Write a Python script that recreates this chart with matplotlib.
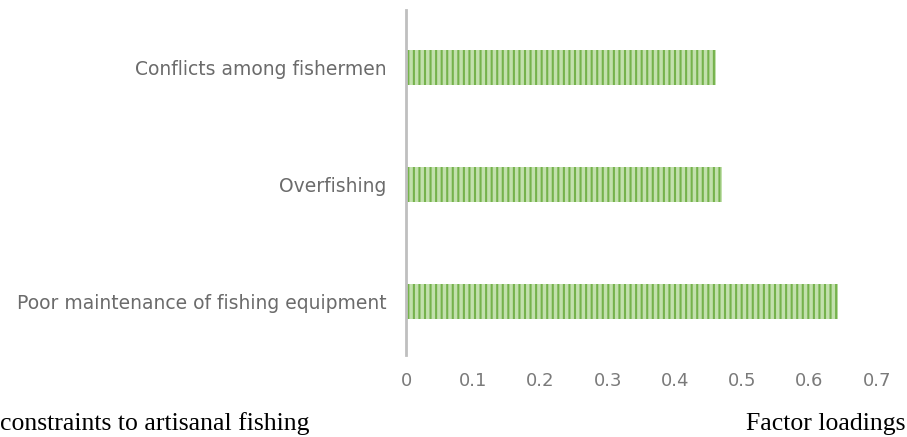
import matplotlib.pyplot as plt

# factor loadings of the constraints
constraints = ["Poor maintenance of fishing equipment", "Overfishing", "Conflicts among fishermen"]
loadings = [0.643, 0.470, 0.461]
x_ticks = [0, 0.1, 0.2, 0.3, 0.4, 0.5, 0.6, 0.7]

plt.rcParams['font.family'] = ['DejaVu Sans']
plt.rcParams['hatch.linewidth'] = 1.5

fig = plt.figure(figsize=(9.07, 4.37), dpi=100)
ax = fig.add_axes([406 / 907, 1 - 355 / 437, 1 - 406 / 907, 345 / 437])

ypos = list(range(len(constraints)))
ax.barh(ypos, loadings, height=0.3, color="#c2e0ad", edgecolor="#75b24c",
        hatch="|||", linewidth=0)

ax.set_xlim(0, 0.745)
ax.set_ylim(-0.46, 2.49)
ax.set_yticks(ypos)
ax.set_yticklabels(constraints, color="#6b6b6b", fontsize=13.5)
ax.set_xticks(x_ticks)
ax.set_xticklabels([str(t) if t else "0" for t in x_ticks], color="#7a7a7a", fontsize=13)
ax.tick_params(axis="y", length=0, pad=14)
ax.tick_params(axis="x", length=0, pad=12)

for s in ["top", "right", "bottom"]:
    ax.spines[s].set_visible(False)
ax.spines["left"].set_color("#bfbfbf")
ax.spines["left"].set_linewidth(2)

fig.text(0.0, 1 - 424 / 437, "constraints to artisanal fishing", family="Liberation Serif",
         fontsize=18.5, va="center", ha="left")
fig.text(905 / 907, 1 - 424 / 437, "Factor loadings", family="Liberation Serif",
         fontsize=18.5, va="center", ha="right")

fig.savefig("out.png", dpi=100)
